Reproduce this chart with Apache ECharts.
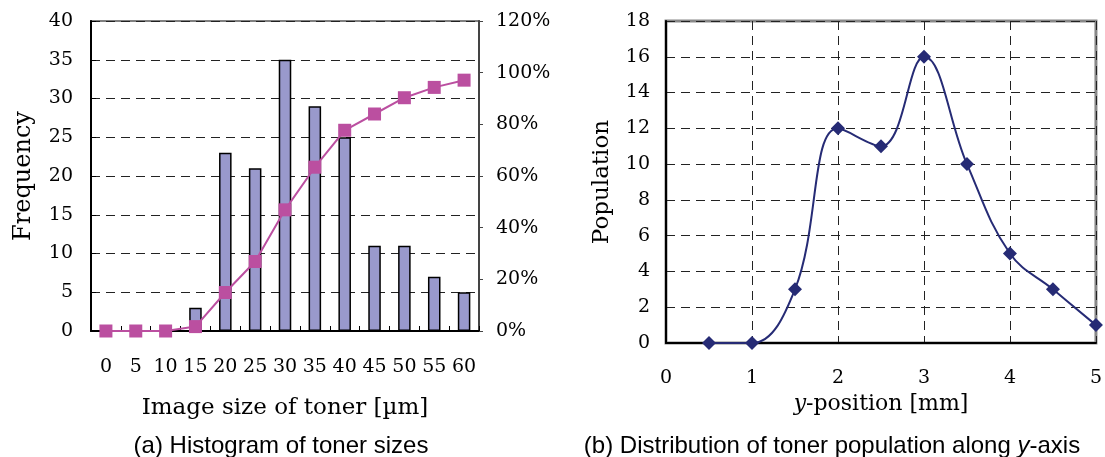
<!DOCTYPE html>
<html>
<head>
<meta charset="utf-8">
<script src="https://cdn.jsdelivr.net/npm/echarts@6/dist/echarts.min.js"></script>
<style>html,body{margin:0;padding:0;background:#fff}#c{width:1105px;height:457px}</style>
</head>
<body>
<div id="c"></div>
<script>
// (a) histogram
const sizeCategories = ['0','5','10','15','20','25','30','35','40','45','50','55','60'];
const frequency = [0,0,0,3,23,21,35,29,25,11,11,7,5];
const cumulativePct = [0,0,0,1.7,14.9,26.9,46.9,63.4,77.7,84.0,90.3,94.3,97.1];
// (b) population along y
const yPosition = [0.5,1,1.5,2,2.5,3,3.5,4,4.5,5];
const population = [0,0,3,12,11,16,10,5,3,1];

const SERIF = '"DejaVu Serif", "Liberation Serif", serif';
const SANS = '"Liberation Sans", Arial, sans-serif';
const dashed = {show:true, lineStyle:{type:[9,6], color:'#222', width:1}};

const chart = echarts.init(document.getElementById('c'), null, {renderer:'canvas'});
chart.setOption({
  animation:false,
  backgroundColor:'#fff',
  grid:[
    {left:91, top:21, width:388, height:310, show:true, borderColor:'#808080', borderWidth:2, backgroundColor:'transparent'},
    {left:666, top:21, width:432, height:322, show:true, borderColor:'#888', borderWidth:3, backgroundColor:'transparent'}
  ],
  xAxis:[
    {type:'category', gridIndex:0, data:sizeCategories, boundaryGap:true,
     axisLine:{lineStyle:{color:'#000', width:2}},
     axisTick:{show:true, inside:true, length:5, lineStyle:{color:'#000', width:1}},
     axisLabel:{interval:0, margin:27, color:'#000', fontFamily:SERIF, fontSize:19},
     splitLine:{show:false},
     name:'Image size of toner [µm]', nameLocation:'middle', nameGap:66,
     nameTextStyle:{color:'#000', fontFamily:SERIF, fontSize:23}},
    {type:'value', gridIndex:1, min:0, max:5, interval:1,
     axisLine:{lineStyle:{color:'#000', width:2}},
     axisTick:{show:false},
     axisLabel:{margin:26, color:'#000', fontFamily:SERIF, fontSize:19},
     splitLine:dashed,
     name:'{i|y}-position [mm]', nameLocation:'middle', nameGap:48,
     nameTextStyle:{color:'#000', fontFamily:SERIF, fontSize:22,
       rich:{i:{fontStyle:'italic', fontFamily:SERIF, fontSize:22, color:'#000'}}}}
  ],
  yAxis:[
    {type:'value', gridIndex:0, min:0, max:40, interval:5,
     axisLine:{show:true, lineStyle:{color:'#000', width:2}},
     axisTick:{show:true, inside:true, length:5, lineStyle:{color:'#000'}},
     axisLabel:{margin:18, color:'#000', fontFamily:SERIF, fontSize:19},
     splitLine:dashed,
     name:'Frequency', nameLocation:'middle', nameGap:55,
     nameTextStyle:{color:'#000', fontFamily:SERIF, fontSize:24}},
    {type:'value', gridIndex:0, min:0, max:120, interval:20, position:'right',
     axisLine:{show:true, lineStyle:{color:'#444', width:2}},
     axisTick:{show:true, inside:false, length:4, lineStyle:{color:'#444'}},
     axisLabel:{margin:17, color:'#000', fontFamily:SERIF, fontSize:19, formatter:'{value}%'},
     splitLine:{show:false}},
    {type:'value', gridIndex:1, min:0, max:18, interval:2,
     axisLine:{show:true, lineStyle:{color:'#000', width:2}},
     axisTick:{show:false},
     axisLabel:{margin:16, color:'#000', fontFamily:SERIF, fontSize:19},
     splitLine:dashed,
     name:'Population', nameLocation:'middle', nameGap:52,
     nameTextStyle:{color:'#000', fontFamily:SERIF, fontSize:23}}
  ],
  series:[
    {type:'bar', xAxisIndex:0, yAxisIndex:0, data:frequency, barWidth:'42%',
     itemStyle:{color:'#9999cc', borderColor:'#000', borderWidth:1.5}, z:2},
    {type:'line', xAxisIndex:0, yAxisIndex:1, data:cumulativePct, symbol:'rect', symbolSize:13,
     lineStyle:{color:'#bb4fa0', width:2}, itemStyle:{color:'#bb4fa0'}, z:3},
    {type:'line', xAxisIndex:1, yAxisIndex:2, data:yPosition.map((x,i)=>[x,population[i]]),
     smooth:0.4, symbol:'diamond', symbolSize:[14,14],
     lineStyle:{color:'#262b75', width:2}, itemStyle:{color:'#262b75'}, z:3}
  ],
  graphic:[
    {type:'text', x:281, y:446, style:{text:'(a) Histogram of toner sizes', font:'24px "Liberation Sans", Arial, sans-serif', fill:'#000', textAlign:'center', textVerticalAlign:'middle'}},
    {type:'text', x:832, y:446, style:{text:'(b) Distribution of toner population along {i|y}-axis', font:'24px "Liberation Sans", Arial, sans-serif', fill:'#000', textAlign:'center', textVerticalAlign:'middle',
      rich:{i:{fontStyle:'italic', fontFamily:SANS, fontSize:24, fill:'#000'}}}}
  ]
});
</script>
</body>
</html>
